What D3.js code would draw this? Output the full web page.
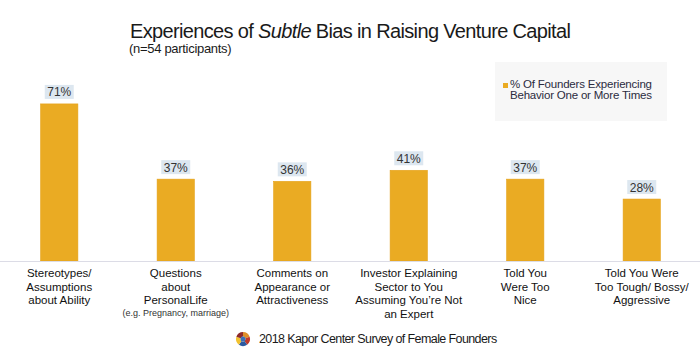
<!DOCTYPE html>
<html>
<head>
<meta charset="utf-8">
<script src="https://cdn.jsdelivr.net/npm/d3@7"></script>
<style>
  body { margin: 0; background: #fff; }
  text { font-family: "Liberation Sans", Arial, sans-serif; }
</style>
</head>
<body>
<div id="chart"></div>
<script>
// Data
const categories = [
  ["Stereotypes/", "Assumptions", "about Ability"],
  ["Questions", "about", "PersonalLife"],
  ["Comments on", "Appearance or", "Attractiveness"],
  ["Investor Explaining", "Sector to You", "Assuming You\u2019re Not", "an Expert"],
  ["Told You", "Were Too", "Nice"],
  ["Told You Were", "Too Tough/ Bossy/", "Aggressive"]
];
const notes = ["", "(e.g. Pregnancy, marriage)", "", "", "", ""];
const values = [71, 37, 36, 41, 37, 28];
const seriesName = ["% Of Founders Experiencing", "Behavior One or More Times"];

const width = 700, height = 350;

const svg = d3.select("#chart")
  .append("svg")
    .attr("width", width)
    .attr("height", height);

// Scales
const x = d3.scaleBand()
  .domain(d3.range(values.length))
  .range([1, 700])
  .paddingInner(0.68)
  .paddingOuter(0.34);

const y = d3.scaleLinear()
  .domain([0, 80])
  .range([261, 84]);

// Title
const title = svg.append("text")
  .attr("x", 130)
  .attr("y", 38)
  .style("font-size", "20px")
  .style("letter-spacing", "-0.65px")
  .attr("fill", "#1a1a1a");
title.append("tspan").text("Experiences of ");
title.append("tspan").style("font-style", "italic").text("Subtle");
title.append("tspan").text(" Bias in Raising Venture Capital");

svg.append("text")
  .attr("x", 129)
  .attr("y", 53)
  .style("font-size", "13px")
  .style("letter-spacing", "-0.3px")
  .attr("fill", "#1a1a1a")
  .text("(n=54 participants)");

// Bars
svg.selectAll(".bar")
  .data(values)
  .join("rect")
    .attr("class", "bar")
    .attr("x", (d, i) => x(i))
    .attr("y", d => y(d))
    .attr("width", x.bandwidth())
    .attr("height", d => y(0) - y(d))
    .attr("fill", "#eaab23")
    .attr("stroke", "#e5a21a")
    .attr("stroke-width", 0.6);

// Baseline
svg.append("line")
  .attr("x1", 0)
  .attr("x2", width)
  .attr("y1", y(0) + 0.5)
  .attr("y2", y(0) + 0.5)
  .attr("stroke", "#dcdce6")
  .attr("stroke-width", 1.2);

// Value labels with light background
const labels = svg.selectAll(".val")
  .data(values)
  .join("g")
    .attr("class", "val")
    .attr("transform", (d, i) => `translate(${x(i) + x.bandwidth() / 2},${y(d) - 5})`);

labels.append("rect")
  .attr("x", -14.5)
  .attr("y", -14)
  .attr("width", 29)
  .attr("height", 14)
  .attr("fill", "#dde7f0");

labels.append("text")
  .attr("text-anchor", "middle")
  .attr("y", -2.5)
  .style("font-size", "12px")
  .attr("fill", "#333")
  .text(d => d + "%");

// Category labels
const cats = svg.selectAll(".cat")
  .data(categories)
  .join("text")
    .attr("class", "cat")
    .attr("text-anchor", "middle")
    .attr("x", (d, i) => x(i) + x.bandwidth() / 2)
    .attr("y", 277)
    .style("font-size", "11.5px")
    .attr("fill", "#111");

cats.selectAll("tspan")
  .data(d => d)
  .join("tspan")
    .attr("x", function() { return d3.select(this.parentNode).attr("x"); })
    .attr("dy", (d, i) => i === 0 ? 0 : 13.5)
    .text(d => d);

svg.selectAll(".note")
  .data(notes)
  .join("text")
    .attr("class", "note")
    .attr("text-anchor", "middle")
    .attr("x", (d, i) => x(i) + x.bandwidth() / 2)
    .attr("y", 316)
    .style("font-size", "9px")
    .attr("fill", "#333")
    .text(d => d);

// Legend
const legend = svg.append("g").attr("transform", "translate(495,62)");
legend.append("rect")
  .attr("width", 172)
  .attr("height", 59)
  .attr("fill", "#f7f7f7");
legend.append("rect")
  .attr("x", 8)
  .attr("y", 21)
  .attr("width", 5)
  .attr("height", 5)
  .attr("fill", "#eaab23");
legend.append("text")
  .attr("x", 15)
  .attr("y", 26)
  .style("font-size", "11.5px")
  .style("letter-spacing", "-0.2px")
  .attr("fill", "#2b2b40")
  .selectAll("tspan")
  .data(seriesName)
  .join("tspan")
    .attr("x", 15)
    .attr("dy", (d, i) => i === 0 ? 0 : 11)
    .text(d => d);

// Footer logo (approximation) and source
const logo = svg.append("g").attr("transform", "translate(243,339)");
const arc = d3.arc().innerRadius(2.5).outerRadius(7);
const logoColors = ["#e0902a", "#c0392b", "#2c5aa0", "#f2c230", "#8e2b2b"];
const pie = d3.pie().value(1).sort(null);
logo.selectAll("path")
  .data(pie(logoColors))
  .join("path")
    .attr("d", arc)
    .attr("fill", d => d.data);
logo.append("circle").attr("r", 2.5).attr("fill", "#3b6fb6");

svg.append("text")
  .attr("x", 259)
  .attr("y", 343)
  .style("font-size", "12.5px")
  .style("letter-spacing", "-0.6px")
  .attr("fill", "#1a1a1a")
  .text("2018 Kapor Center Survey of Female Founders");
</script>
</body>
</html>
